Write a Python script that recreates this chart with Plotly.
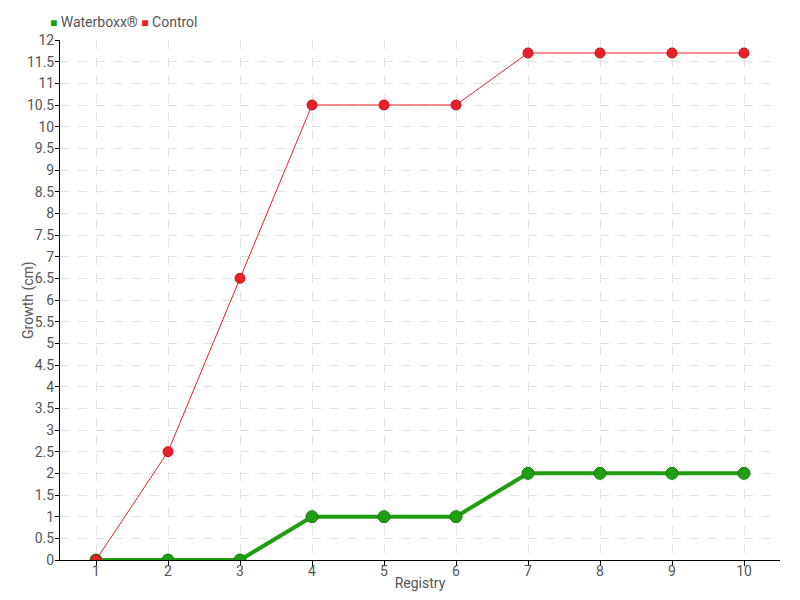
import plotly.graph_objects as go

registry = [1, 2, 3, 4, 5, 6, 7, 8, 9, 10]
waterboxx = [0, 0, 0, 1, 1, 1, 2, 2, 2, 2]
control = [0, 2.5, 6.5, 10.5, 10.5, 10.5, 11.7, 11.7, 11.7, 11.7]
y_ticks = [i * 0.5 for i in range(25)]
y_labels = [("%g" % v) for v in y_ticks]
series_names = ["Waterboxx®", "Control"]

green = "#1f9e12"
red = "#e8202a"
font_family = "Roboto, Liberation Sans Narrow, sans-serif"
text_color = "#555555"

# the page body has an 8px offset; margins are set so the plot area lands
# at x 60..780, y 40..560 in the window
W, H = 800, 600
ML, MR, MT, MB = 52, 28, 32, 48

fig = go.Figure()
fig.add_trace(go.Scatter(
    x=registry, y=waterboxx, mode="lines+markers", name=series_names[0],
    line=dict(color=green, width=4),
    marker=dict(color=green, size=12, line=dict(color="#157a0c", width=1)),
    showlegend=False,
))
fig.add_trace(go.Scatter(
    x=registry, y=control, mode="lines+markers", name=series_names[1],
    line=dict(color=red, width=1),
    marker=dict(color=red, size=10, line=dict(color="#c8101a", width=1)),
    showlegend=False,
))

pw, ph = W - ML - MR, H - MT - MB
fig.add_annotation(
    x=(40 - ML) / pw, y=(H - MB - 14) / ph, xref="paper", yref="paper", showarrow=False,
    xanchor="left", yanchor="middle",
    text=(f"<span style='color:{green};font-size:12px'>■</span> {series_names[0]}"
          f" <span style='color:{red};font-size:12px'>■</span> {series_names[1]}"),
    font=dict(size=14, color=text_color, family=font_family),
)
# y axis title
fig.add_annotation(
    x=(20 - ML) / pw, y=0.5, xref="paper", yref="paper", showarrow=False,
    xanchor="center", yanchor="middle", textangle=-90,
    text="Growth (cm)", font=dict(size=14, color=text_color, family=font_family),
)

fig.update_layout(
    width=W, height=H,
    margin=dict(l=ML, r=MR, t=MT, b=MB, autoexpand=False),
    paper_bgcolor="white", plot_bgcolor="white",
    font=dict(family=font_family, size=14, color=text_color),
    showlegend=False,
    xaxis=dict(
        range=[0.5, 10.5], tickmode="array", tickvals=registry,
        showline=True, linecolor="black", linewidth=1,
        ticks="outside", ticklen=5, tickcolor="black",
        ticklabelstandoff=-7,
        showgrid=True, gridcolor="#e2e2e2", griddash="dash", gridwidth=1,
        zeroline=False, automargin=False,
        title=dict(text="Registry", standoff=0, font=dict(size=14)),
    ),
    yaxis=dict(
        range=[0, 12], tickmode="array", tickvals=y_ticks, ticktext=y_labels,
        showline=True, linecolor="black", linewidth=1,
        ticks="outside", ticklen=4, tickcolor="black",
        ticklabelstandoff=-2,
        showgrid=True, gridcolor="#e2e2e2", griddash="dash", gridwidth=1,
        zeroline=False, automargin=False,
    ),
)
fig.write_html("out.html")
